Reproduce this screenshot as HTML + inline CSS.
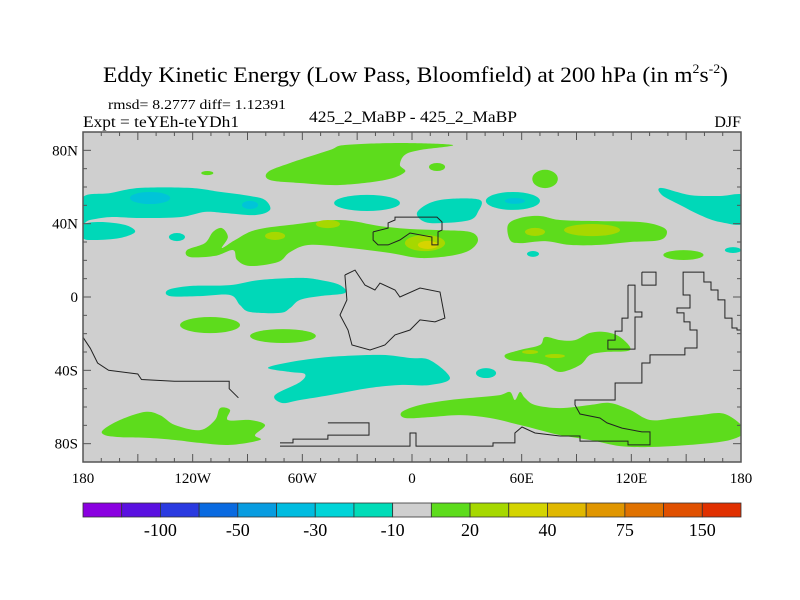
<!DOCTYPE html>
<html><head><meta charset="utf-8"><style>
body{margin:0;background:#fff;}
svg{display:block;font-family:"Liberation Serif",serif;}
</style></head><body>
<svg id="chart" width="800" height="600" viewBox="0 0 800 600" xmlns="http://www.w3.org/2000/svg">
<rect width="800" height="600" fill="#fff"/>
<text x="103" y="82" font-size="22" textLength="625" lengthAdjust="spacingAndGlyphs">Eddy Kinetic Energy (Low Pass, Bloomfield) at 200 hPa (in m<tspan font-size="13" dy="-9">2</tspan><tspan dy="9">s</tspan><tspan font-size="13" dy="-9">-2</tspan><tspan dy="9">)</tspan></text>
<text x="108" y="109" font-size="14" textLength="178" lengthAdjust="spacingAndGlyphs">rmsd= 8.2777 diff= 1.12391</text>
<text x="83" y="127" font-size="16" textLength="156" lengthAdjust="spacingAndGlyphs">Expt = teYEh-teYDh1</text>
<text x="309" y="122" font-size="16" textLength="208" lengthAdjust="spacingAndGlyphs">425_2_MaBP - 425_2_MaBP</text>
<text x="741" y="127" font-size="16" text-anchor="end">DJF</text>
<defs><clipPath id="pc"><rect x="83" y="132" width="658" height="330"/></clipPath></defs>
<rect x="83" y="132" width="658" height="330" fill="#cfcfcf"/>
<g id="fills" clip-path="url(#pc)"></g>
<g id="coast" clip-path="url(#pc)"></g>
<g id="axes"></g>
<g id="cbar"></g>
</svg>
<script>
const NS="http://www.w3.org/2000/svg";
const X0=83,X1=741,Y0=132,Y1=462;
function xs(lon){return X0+(lon+180)/360*(X1-X0);}
function ys(lat){return Y0+(90-lat)/180*(Y1-Y0);}
const levelColors={c2:"#00c4d8",c:"#00d8b8",g:"#5ddc1c",y:"#a6d800",yy:"#d6d400"};
// contour regions: [level, [[lon,lat],...]]
const polyRegions=[
 ["g",[[-78.8,68.2],[-66.7,73.1],[-44.9,80.2],[-36.7,82.9],[-6.6,84],[22.4,82.9],[4.4,80.2],[-3.9,77.5],[-6.6,72],[-3.9,68.2],[-14.8,63.8],[-39.4,61.1],[-61.3,62.2],[-77.7,63.8]]],
 ["g",[[-123.1,25.6],[-113.3,29.4],[-108.9,35.5],[-104,37.6],[-100.7,32.7],[-104,26.7],[-96.8,31.1],[-85.9,36.5],[-66.7,39.3],[-39.4,42],[-17.5,38.7],[-1.1,37.1],[15.3,36.5],[31.7,35.5],[36.1,31.1],[31.7,25.6],[20.8,22.4],[4.4,21.3],[-12,24],[-33.9,26.7],[-55.8,28.4],[-66.7,24.5],[-73.3,19.1],[-88.6,16.9],[-95.7,20.2],[-97.9,25.6],[-107.8,22.4],[-121.5,21.8]]],
 ["g",[[52.5,39.3],[59.1,43.1],[70,44.2],[81,42],[102.8,41.4],[124.7,40.9],[135.7,38.7],[139.5,35.5],[135.7,31.1],[119.3,30],[102.8,28.4],[86.4,28.4],[72.8,30.5],[59.1,29.4],[53.6,31.1]]],
 ["c",[[-180,54.5],[-165.2,56.7],[-148.8,59.5],[-121.5,59.5],[-105,57.3],[-88.6,55.1],[-80.4,52.9],[-77.7,47.5],[-85.9,44.7],[-102.3,45.8],[-113.3,46.4],[-126.9,43.6],[-148.8,43.1],[-165.2,43.6],[-176.2,42],[-180,40.9]]],
 ["c",[[-180,39.3],[-170.7,40.9],[-157,39.3],[-151.5,35.5],[-159.8,32.2],[-173.4,31.1],[-180,32.2]]],
 ["c",[[2.7,45.8],[9.8,51.3],[20.8,53.5],[37.2,52.9],[36.1,46.4],[31.7,42],[18,40.4],[7.1,40.9]]],
 ["c",[[136.2,59.5],[152.1,55.6],[168.5,55.1],[182,55.1],[182,40.4],[168.5,40.9],[157.6,44.7],[146.7,50.2],[136.8,55.6]]],
 ["c",[[-133.5,3.8],[-121.5,6],[-99.6,6.5],[-83.2,9.3],[-61.3,10.4],[-50.3,9.3],[-39.4,6.5],[-36.7,2.2],[-50.3,0.5],[-61.3,-1.6],[-66.7,-6],[-72.2,-8.7],[-88.6,-8.2],[-94.1,-4.4],[-99.6,1.1],[-116,0.5],[-132.4,0.5]]],
 ["c",[[-78.8,-38.7],[-66.7,-35.5],[-44.9,-32.7],[-17.5,-31.6],[-1.1,-33.3],[9.8,-34.4],[20.8,-44.2],[9.8,-48],[-6.6,-48],[-23,-49.6],[-44.9,-53.5],[-61.3,-56.2],[-71.1,-57.8],[-75,-53.5],[-61.3,-46.4],[-58.6,-42],[-66.7,-40.9]]],
 ["g",[[-169.1,-72.6],[-159.8,-67.1],[-146.1,-62.7],[-137.9,-64.4],[-129.7,-69.8],[-116,-72.6],[-107.8,-67.1],[-105,-60.6],[-99.6,-61.6],[-100.7,-67.1],[-88.6,-67.1],[-80.4,-69.8],[-85.9,-75.3],[-83.2,-78],[-99.6,-80.7],[-116,-79.6],[-129.7,-78],[-143.3,-76.9],[-159.8,-76.4],[-168,-75.3]]],
 ["g",[[-5.5,-62.7],[4.4,-58.9],[20.8,-56.2],[37.2,-54.6],[48.1,-53.5],[53.6,-51.8],[56.3,-56.2],[59.1,-51.8],[61.8,-55.1],[67.3,-58.9],[81,-60.6],[97.4,-58.9],[108.3,-57.8],[119.3,-61.6],[130.2,-67.1],[143.9,-66],[157.6,-64.4],[171.2,-63.8],[182,-72.6],[174,-78],[152.1,-80.7],[130.2,-81.8],[113.8,-81.3],[97.4,-78],[81,-75.3],[70,-72.6],[59.1,-69.8],[42.7,-66],[26.3,-64.4],[9.8,-65.5],[-3.8,-66]]],
 ["g",[[50.9,-31.6],[59.1,-28.9],[70,-26.2],[72.8,-21.8],[81,-23.5],[89.2,-23.5],[97.4,-19.6],[105.6,-19.1],[113.8,-21.8],[119.3,-28.9],[105.6,-30],[97.4,-31.6],[91.9,-37.1],[81,-40.9],[72.8,-37.1],[64.6,-35.5],[53.6,-34.4]]]
];
// ellipse regions: [level, lon, lat, rlon, rlat]
const ellRegions=[
 ["y",-74.9,33.3,5.5,2.2],["y",-46,39.8,6.6,2.2],["y",7.1,29.4,11,4.4],["yy",8.7,28.4,5.5,2.2],
 ["y",67.3,35.5,5.5,2.2],["y",98.5,36.5,15.3,3.3],
 ["g",13.7,70.9,4.4,2.2],["g",72.8,64.4,7,5],["g",148.5,22.9,11,2.7],["g",-112,67.6,3.3,1.1],
 ["c2",-143.3,54,11,3.3],["c2",-88.6,50.2,4.4,2.2],
 ["c",-24.6,51.3,18,4.4],["c",55.2,52.4,14.8,4.9],["c2",56.3,52.4,5.5,1.6],
 ["c",175.6,25.6,4.4,1.6],["c",66.2,23.5,3.3,1.6],["c",-128.6,32.7,4.4,2.2],["c",40.5,-41.5,5.5,2.7],
 ["g",-110.5,-15.3,16.4,4.4],["g",-70.6,-21.3,18,3.8],
 ["y",64.6,-30,4.4,1.1],["y",78.2,-32.2,5.5,1.1]
];
const coastLines=[
 [[-36.7,12],[-31.2,14.7],[-25.7,6.5],[-20.3,3.8],[-17.5,7.6],[-9.3,3.8],[-6.6,0],[4.4,4.9],[15.3,2.7],[18,-11.5],[12.6,-13.6],[4.4,-12.5],[-1.1,-18],[-9.3,-20.7],[-14.8,-26.2],[-23,-28.9],[-32.8,-26.2],[-35,-18],[-39.4,-9.8],[-35.6,-1.6],[-36.7,12]],
 [[-21.3,35.5],[-13.1,37.6],[-13.1,40.4],[-9.3,42],[-9.3,43.6],[13.7,43.6],[16.4,40.9],[16.4,36.5],[14.2,35.5],[14.2,28.4],[10.9,28.4],[10.9,32.7],[-1.1,34.9],[-6.6,31.1],[-13.1,28.4],[-18.6,28.4],[-21.3,31.1],[-21.3,35.5]],
 [[-72.2,-81.3],[-1.1,-81.3],[-1.1,-74.2],[2.2,-74.2],[2.2,-81.3],[44.3,-81.3],[44.3,-79.6],[56.3,-79.6],[56.3,-74.2],[60.2,-70.9],[67.3,-74.2],[81,-75.8]],
 [[-72.2,-79.6],[-65.1,-79.6],[-65.1,-77.5],[-46,-77.5],[-46,-75.3],[-23.5,-75.3],[-23.5,-68.7],[-46,-68.7]],
 [[-180,-22],[-176,-28],[-172,-36],[-166,-40],[-150,-42],[-148,-45],[-130,-46],[-100,-46],[-100,-50],[-95,-55]],
 [[118.2,6.5],[122,6.5],[122,-8.2],[125.8,-8.2],[125.8,-10.9],[122,-10.9],[122,-28.4],[107.2,-28.4],[107.2,-23.5],[111.1,-23.5],[111.1,-18.6],[114.9,-18.6],[114.9,-11.5],[118.2,-11.5],[118.2,6.5]],
 [[125.8,13.6],[133.5,13.6],[133.5,6.5],[125.8,6.5],[125.8,13.6]],
 [[182,-18],[177.8,-18],[177.8,-16.9],[175.1,-16.9],[175.1,-11.5],[171.2,-11.5],[171.2,-1.6],[167.4,-1.6],[167.4,3.8],[163.6,3.8],[163.6,8.2],[159.7,8.2],[159.7,13.6],[148.3,13.6],[148.3,1.1],[152.1,1.1],[152.1,-6],[145,-6],[145,-8.7],[148.8,-8.7],[148.8,-13.6],[152.1,-13.6],[152.1,-18],[155.9,-18],[155.9,-27.8],[149.3,-27.8],[149.3,-31.6],[130.2,-31.6],[130.2,-36],[125.8,-36],[125.8,-46.9],[111.1,-46.9],[111.1,-56.2],[89.2,-56.2],[89.2,-58.9]],
 [[89.2,-58.9],[91.9,-63.8],[102.8,-66],[106.7,-68.7],[114.9,-71.5],[125.8,-73.6],[130.2,-73.6],[130.2,-80.7],[118.2,-80.7],[118.2,-78.6],[91.9,-78.6],[91.9,-75.8],[81,-75.8]]
];
const latTicks=[-80,-70,-60,-50,-40,-30,-20,-10,0,10,20,30,40,50,60,70,80];
const latLabels=[[80,"80N"],[40,"40N"],[0,"0"],[-40,"40S"],[-80,"80S"]];
const lonLabels=[[-180,"180"],[-120,"120W"],[-60,"60W"],[0,"0"],[60,"60E"],[120,"120E"],[180,"180"]];
const cbarColors=["#8a00e0","#5a10e0","#2a3ae0","#0a6ae0","#089ce0","#00bce0","#00d4d8","#00dcb8","#cfcfcf","#5ddc1c","#a6d800","#d4d400","#e0b800","#e09600","#e07200","#e05000","#e03000"];
const cbarLabels=[[2,"-100"],[4,"-50"],[6,"-30"],[8,"-10"],[10,"20"],[12,"40"],[14,"75"],[16,"150"]];

function smooth(pts){
 const n=pts.length;let d="M"+pts[0][0].toFixed(1)+","+pts[0][1].toFixed(1);
 for(let i=0;i<n;i++){const p0=pts[(i-1+n)%n],p1=pts[i],p2=pts[(i+1)%n],p3=pts[(i+2)%n];
  d+="C"+(p1[0]+(p2[0]-p0[0])/6).toFixed(1)+","+(p1[1]+(p2[1]-p0[1])/6).toFixed(1)+" "+(p2[0]-(p3[0]-p1[0])/6).toFixed(1)+","+(p2[1]-(p3[1]-p1[1])/6).toFixed(1)+" "+p2[0].toFixed(1)+","+p2[1].toFixed(1);}
 return d+"Z";
}
const fills=document.getElementById("fills");
const order=["c","g","c2","y","yy"];
order.forEach(lv=>{
 polyRegions.forEach(r=>{if(r[0]!==lv)return;
  const p=document.createElementNS(NS,"path");
  p.setAttribute("d",smooth(r[1].map(q=>[xs(q[0]),ys(q[1])])));
  p.setAttribute("fill",levelColors[lv]);
  
  
  fills.appendChild(p);});
 ellRegions.forEach(r=>{if(r[0]!==lv)return;
  const e=document.createElementNS(NS,"ellipse");
  e.setAttribute("cx",xs(r[1]));e.setAttribute("cy",ys(r[2]));
  e.setAttribute("rx",xs(r[3])-xs(0));e.setAttribute("ry",ys(0)-ys(r[4]));
  e.setAttribute("fill",levelColors[lv]);
  
  
  fills.appendChild(e);});
});
const coast=document.getElementById("coast");
coastLines.forEach(l=>{
 const p=document.createElementNS(NS,"polyline");
 p.setAttribute("points",l.map(q=>xs(q[0]).toFixed(1)+","+ys(q[1]).toFixed(1)).join(" "));
 p.setAttribute("fill","none");p.setAttribute("stroke","#222");p.setAttribute("stroke-width","1");
 
 
 coast.appendChild(p);
});
const axes=document.getElementById("axes");
function line(x1,y1,x2,y2,w){const l=document.createElementNS(NS,"line");
 l.setAttribute("x1",x1);l.setAttribute("y1",y1);l.setAttribute("x2",x2);l.setAttribute("y2",y2);
 l.setAttribute("stroke","#555");l.setAttribute("stroke-width",w||1);
 
 
 axes.appendChild(l);}
latTicks.forEach(t=>{const y=ys(t);const L=(t%40===0)?8:4;line(X0,y,X0+L,y);line(X1,y,X1-L,y);});
for(let lon=-180;lon<=180;lon+=10){const x=xs(lon);const L=(lon%30===0)?8:4;line(x,Y0,x,Y0+L);line(x,Y1,x,Y1-L);}
const fr=document.createElementNS(NS,"rect");
fr.setAttribute("x",X0);fr.setAttribute("y",Y0);fr.setAttribute("width",X1-X0);fr.setAttribute("height",Y1-Y0);
fr.setAttribute("fill","none");fr.setAttribute("stroke","#555");fr.setAttribute("stroke-width","1.5");


axes.appendChild(fr);
latLabels.forEach(l=>{const t=document.createElementNS(NS,"text");
 t.setAttribute("x",X0-5);t.setAttribute("y",ys(l[0])+5);t.setAttribute("text-anchor","end");t.setAttribute("font-size","15");
 t.textContent=l[1];
 
 
 axes.appendChild(t);});
lonLabels.forEach(l=>{const t=document.createElementNS(NS,"text");
 t.setAttribute("x",xs(l[0]));t.setAttribute("y",Y1+21);t.setAttribute("text-anchor","middle");t.setAttribute("font-size","15");
 t.textContent=l[1];
 
 
 axes.appendChild(t);});
const cb=document.getElementById("cbar");
const CB0=83,CB1=741,CBY=503,CBH=14,bw=(CB1-CB0)/cbarColors.length;
cbarColors.forEach((c,i)=>{const r=document.createElementNS(NS,"rect");
 r.setAttribute("x",CB0+i*bw);r.setAttribute("y",CBY);r.setAttribute("width",bw);r.setAttribute("height",CBH);
 r.setAttribute("fill",c);r.setAttribute("stroke","#333");r.setAttribute("stroke-width","0.8");
 
 
 cb.appendChild(r);});
cbarLabels.forEach(l=>{const t=document.createElementNS(NS,"text");
 t.setAttribute("x",CB0+l[0]*bw);t.setAttribute("y",CBY+CBH+19);t.setAttribute("text-anchor","middle");t.setAttribute("font-size","18");
 t.textContent=l[1];
 
 
 cb.appendChild(t);});
</script>
</body></html>
